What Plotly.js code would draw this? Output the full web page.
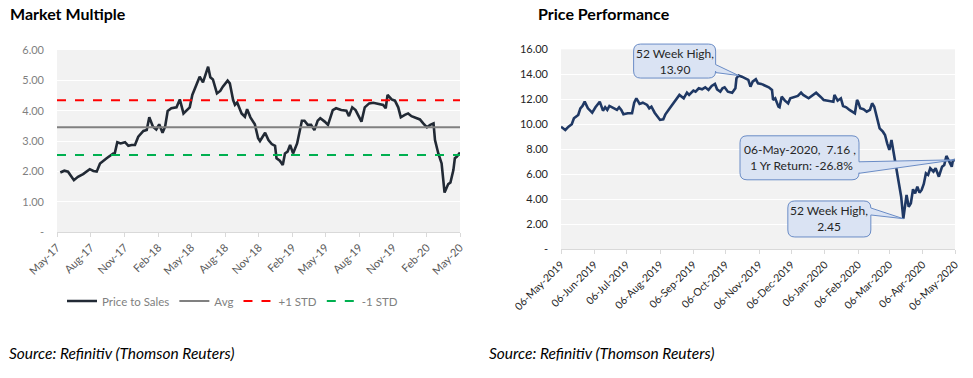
<!DOCTYPE html>
<html>
<head>
<meta charset="utf-8">
<script src="https://cdn.plot.ly/plotly-3.0.1.min.js"></script>
<style>
html,body{margin:0;padding:0;background:#fff;}
#chart{width:973px;height:378px;}
</style>
</head>
<body>
<div id="chart"></div>
<script>
// ---- Market Multiple (Price to Sales) ----
const psDates = ["2017-05-10","2017-05-21","2017-05-31","2017-06-16","2017-06-27","2017-07-11","2017-07-29","2017-08-08","2017-08-17","2017-08-26",
"2017-09-13","2017-10-01","2017-10-05","2017-10-12","2017-10-21","2017-11-02","2017-11-11","2017-11-20","2017-11-29","2017-12-08",
"2017-12-22","2017-12-31","2018-01-07","2018-01-17","2018-01-26","2018-02-03","2018-02-12","2018-02-19","2018-02-26","2018-03-08",
"2018-03-22","2018-03-31","2018-04-10","2018-04-18","2018-04-27","2018-05-04","2018-05-15","2018-05-24","2018-06-02","2018-06-16",
"2018-06-22","2018-06-29","2018-07-10","2018-07-19","2018-07-26","2018-08-08","2018-08-14","2018-08-23","2018-08-28","2018-09-03",
"2018-09-15","2018-09-24","2018-09-30","2018-10-09","2018-10-21","2018-10-30","2018-11-04","2018-11-18","2018-11-27","2018-12-06",
"2018-12-15","2018-12-19","2018-12-28","2019-01-05","2019-01-11","2019-01-18","2019-01-25","2019-02-02","2019-02-13","2019-02-22",
"2019-02-26","2019-03-05","2019-03-14","2019-03-23","2019-04-01","2019-04-10","2019-04-17","2019-04-29","2019-05-08","2019-05-21",
"2019-05-30","2019-06-13","2019-06-27","2019-07-04","2019-07-13","2019-07-22","2019-08-07","2019-08-16","2019-08-28","2019-09-08",
"2019-09-22","2019-10-05","2019-10-12","2019-10-17","2019-10-28","2019-11-06","2019-11-15","2019-11-22","2019-12-03","2019-12-12",
"2019-12-21","2019-12-30","2020-01-13","2020-01-22","2020-02-01","2020-02-10","2020-02-19","2020-02-23","2020-03-03","2020-03-12",
"2020-03-20","2020-03-30","2020-04-05","2020-04-13","2020-04-17","2020-04-22","2020-04-26","2020-05-01"];
const psValues = [1.96,2.02,1.99,1.71,1.82,1.91,2.07,2.01,1.99,2.26,
2.43,2.59,2.59,2.96,2.92,2.96,2.84,2.87,2.87,3.14,
3.33,3.36,3.78,3.47,3.38,3.55,3.27,3.47,3.99,4.08,
4.11,4.37,3.91,4.02,4.11,4.52,4.87,5.12,4.93,5.45,
5.10,5.03,4.57,4.65,4.79,4.99,4.90,4.35,4.19,4.27,
3.91,3.80,4.05,3.78,3.55,3.09,3.00,3.27,3.03,2.90,
2.84,2.43,2.35,2.21,2.59,2.65,2.87,2.59,2.92,3.53,
3.67,3.67,3.53,3.53,3.36,3.67,3.75,3.64,3.53,4.02,
4.08,4.02,4.00,3.82,4.11,4.02,3.64,4.11,4.24,4.26,
4.22,4.19,4.08,4.52,4.37,4.33,4.11,3.78,3.86,3.91,
3.82,3.78,3.71,3.58,3.45,3.53,3.58,3.03,2.59,2.26,
1.30,1.58,1.63,2.04,2.43,2.48,2.54,2.62];
const psAvg = 3.45;
const psPlusStd = 4.34;
const psMinusStd = 2.54;
const psRange = ["2017-05-01","2020-05-01"];
const psTickDates = ["2017-05-01","2017-08-01","2017-11-01","2018-02-01","2018-05-01","2018-08-01","2018-11-01","2019-02-01","2019-05-01","2019-08-01","2019-11-01","2020-02-01","2020-05-01"];
const psYTicks = [0,1,2,3,4,5,6];
const psYLabels = ["-","1.00","2.00","3.00","4.00","5.00","6.00"];
const psNames = ["Price to Sales","Avg","+1 STD","-1 STD"];

// ---- Price Performance ----
const pxDates = ["2019-05-06","2019-05-10","2019-05-13","2019-05-16","2019-05-18","2019-05-21","2019-05-22","2019-05-24","2019-05-26","2019-05-28",
"2019-05-31","2019-06-04","2019-06-07","2019-06-11","2019-06-14","2019-06-16","2019-06-18","2019-06-20","2019-06-24","2019-06-27",
"2019-06-29","2019-07-01","2019-07-03","2019-07-07","2019-07-11","2019-07-13","2019-07-15","2019-07-18","2019-07-21","2019-07-25",
"2019-07-27","2019-07-29","2019-08-01","2019-08-06","2019-08-09","2019-08-11","2019-08-15","2019-08-20","2019-08-24","2019-08-28",
"2019-08-31","2019-09-02","2019-09-06","2019-09-08","2019-09-11","2019-09-14","2019-09-17","2019-09-20","2019-09-23","2019-09-26",
"2019-09-28","2019-10-01","2019-10-03","2019-10-05","2019-10-08","2019-10-12","2019-10-15","2019-10-16","2019-10-18","2019-10-21",
"2019-10-24","2019-10-27","2019-10-29","2019-10-31","2019-11-03","2019-11-05","2019-11-08","2019-11-12","2019-11-15","2019-11-18",
"2019-11-19","2019-11-21","2019-11-24","2019-11-25","2019-11-27","2019-11-30","2019-12-03","2019-12-05","2019-12-09","2019-12-12",
"2019-12-15","2019-12-17","2019-12-22","2019-12-25","2019-12-29","2020-01-02","2020-01-05","2020-01-09","2020-01-14","2020-01-15",
"2020-01-18","2020-01-21","2020-01-23","2020-01-26","2020-01-29","2020-02-03","2020-02-05","2020-02-06","2020-02-08","2020-02-11",
"2020-02-14","2020-02-17","2020-02-19","2020-02-21","2020-02-23","2020-02-26","2020-02-29","2020-03-02","2020-03-04","2020-03-06",
"2020-03-08","2020-03-10","2020-03-13","2020-03-15","2020-03-17","2020-03-19","2020-03-21","2020-03-22","2020-03-24","2020-03-26",
"2020-03-28","2020-03-30","2020-04-01","2020-04-03","2020-04-05","2020-04-07","2020-04-09","2020-04-11","2020-04-13","2020-04-16",
"2020-04-18","2020-04-21","2020-04-24","2020-04-26","2020-04-28","2020-05-01","2020-05-03","2020-05-04","2020-05-06"];
const pxValues = [9.81,9.55,9.81,10.00,10.48,10.67,10.75,11.28,11.47,11.81,
11.28,10.93,11.36,11.81,11.09,11.36,11.15,11.47,11.28,11.15,
11.36,11.15,10.80,10.88,10.88,11.73,12.08,11.63,11.73,11.55,
11.28,11.41,10.93,10.35,10.40,10.80,11.28,11.89,12.35,12.08,
12.53,12.35,12.69,12.61,12.88,12.80,12.96,12.75,13.07,13.23,
12.80,12.61,12.88,12.96,12.61,12.53,12.88,13.68,13.90,13.81,
13.68,13.55,13.01,13.41,13.60,13.28,13.23,13.07,12.96,12.75,
11.95,12.08,11.41,11.36,12.21,11.89,11.68,12.08,12.21,12.27,
12.53,12.35,12.08,12.27,12.53,12.21,11.95,11.89,11.81,12.35,
11.89,12.08,11.47,11.36,11.15,10.88,11.95,11.81,11.28,11.20,
11.01,11.15,11.68,11.41,10.75,9.68,9.41,9.15,8.48,7.95,
8.75,7.81,6.35,5.28,4.21,2.45,3.68,4.35,3.41,3.68,
4.80,4.48,5.01,4.53,4.75,5.23,6.08,5.95,6.48,6.21,
6.48,5.81,6.61,6.75,7.47,6.88,6.61,7.09,7.16];
const pxRange = ["2019-05-06","2020-05-06"];
const pxYRange = [0, 16];
const pxTickDates = ["2019-05-06","2019-06-06","2019-07-06","2019-08-06","2019-09-06","2019-10-06","2019-11-06","2019-12-06","2020-01-06","2020-02-06","2020-03-06","2020-04-06","2020-05-06"];
const pxYTicks = [0,2,4,6,8,10,12,14,16];
const pxYLabels = ["-","2.00","4.00","6.00","8.00","10.00","12.00","14.00","16.00"];
const highDate = "2019-10-18", highVal = 13.90;
const lowDate = "2020-03-19", lowVal = 2.45;
const lastDate = "2020-05-06", lastVal = 7.16, yrReturn = "-26.8%";

const FONT = "Lato, 'Open Sans', sans-serif";
const W = 973, H = 378;
const px = v => v / W, py = v => 1 - v / H;

const traces = [
  {x: psDates, y: psValues, xaxis:'x', yaxis:'y', type:'scatter', mode:'lines', name: psNames[0],
   line:{color:'#222a35', width:2.6}},
  {x: psRange, y: [psAvg, psAvg], xaxis:'x', yaxis:'y', type:'scatter', mode:'lines', name: psNames[1],
   line:{color:'#808080', width:2}},
  {x: psRange, y: [psPlusStd, psPlusStd], xaxis:'x', yaxis:'y', type:'scatter', mode:'lines', name: psNames[2],
   line:{color:'#ff0000', width:2, dash:'dash'}},
  {x: psRange, y: [psMinusStd, psMinusStd], xaxis:'x', yaxis:'y', type:'scatter', mode:'lines', name: psNames[3],
   line:{color:'#00b050', width:2, dash:'dash'}},
  {x: pxDates, y: pxValues, xaxis:'x2', yaxis:'y2', type:'scatter', mode:'lines', showlegend:false,
   line:{color:'#1f3864', width:2.6}}
];

// rounded callout box with a wedge pointing at its anchor (pixel offsets, y up)
function calloutPath(L, R, T, B, w1, w2) {
  const r = 7;
  return `M${L+r},${T} L${R-r},${T} Q${R},${T} ${R},${T-r} L${R},${w1} L0,0 L${R},${w2} ` +
         `L${R},${B+r} Q${R},${B} ${R-r},${B} L${L+r},${B} Q${L},${B} ${L},${B+r} ` +
         `L${L},${T-r} Q${L},${T} ${L+r},${T} Z`;
}
// anchored on the x2 axis and on the y2 axis domain (so the box is not clipped by the plot area)
function calloutShape(xa, ya, geom) {
  const frac = (ya - pxYRange[0]) / (pxYRange[1] - pxYRange[0]);
  return {type:'path', xref:'x2', yref:'y2 domain', xsizemode:'pixel', ysizemode:'pixel', xanchor:xa, yanchor:frac,
    path: calloutPath.apply(null, geom), fillcolor:'#dae3f3', line:{color:'#6a8cc6', width:1}, layer:'above'};
}
function calloutText(xa, ya, dx, dy, text) {
  return {xref:'x2', yref:'y2', x:xa, y:ya, xshift:dx, yshift:dy, showarrow:false, text:text,
    align:'center', font:{family:FONT, size:12, color:'#262626'}};
}

const layout = {
  width: W, height: H,
  margin:{l:0, r:0, t:0, b:0},
  paper_bgcolor:'#ffffff', plot_bgcolor:'#f2f2f2',
  font:{family:FONT, size:11, color:'#595959'},
  showlegend:true,
  legend:{orientation:'h', x:px(62), y:py(301), xanchor:'left', yanchor:'middle',
    font:{family:FONT, size:11.5, color:'#7f7f7f'}, bgcolor:'rgba(0,0,0,0)', itemwidth:30, tracegroupgap:0},
  xaxis:{domain:[px(57), px(460)], anchor:'y', type:'date', range: psRange, tickvals: psTickDates,
    tickformat:'%b-%y', tickangle:-45, showgrid:false, zeroline:false, showline:true, linecolor:'#d9d9d9',
    ticks:'outside', ticklen:4, tickcolor:'#d9d9d9', tickfont:{size:11, color:'#595959'}},
  yaxis:{domain:[py(232), py(50)], anchor:'x', range:[0,6], tickvals: psYTicks, ticktext: psYLabels,
    showgrid:true, gridcolor:'#ffffff', gridwidth:1, zeroline:false, showline:false, ticklabelstandoff:12,
    tickfont:{size:11, color:'#7f7f7f'}},
  xaxis2:{domain:[px(561), px(955)], anchor:'y2', type:'date', range: pxRange, tickvals: pxTickDates,
    tickformat:'%d-%b-%Y', tickangle:-45, showgrid:false, zeroline:false, showline:true, linecolor:'#d9d9d9',
    ticks:'outside', ticklen:4, tickcolor:'#d9d9d9', tickfont:{size:10.5, color:'#262626'}},
  yaxis2:{domain:[py(249.3), py(49.3)], anchor:'x2', range: pxYRange, tickvals: pxYTicks, ticktext: pxYLabels,
    showgrid:true, gridcolor:'#ffffff', gridwidth:1, zeroline:false, showline:false, ticklabelstandoff:12,
    tickfont:{size:11, color:'#262626'}},
  shapes:[
    calloutShape(highDate, highVal, [-105, -23, 31.5, -2.5, 11, 3]),
    calloutShape(lastDate, lastVal, [-215, -96, 24, -20, -2, -13.5]),
    calloutShape(lowDate, lowVal, [-115.5, -32.5, 17.7, -18.3, 10.7, 3.7])
  ],
  annotations:[
    {xref:'paper', yref:'paper', x:px(8), y:py(14), xanchor:'left', yanchor:'middle', showarrow:false,
     text:'<b>Market Multiple</b>', font:{family:FONT, size:16, color:'#000000'}},
    {xref:'paper', yref:'paper', x:px(536), y:py(14), xanchor:'left', yanchor:'middle', showarrow:false,
     text:'<b>Price Performance</b>', font:{family:FONT, size:16, color:'#000000'}},
    {xref:'paper', yref:'paper', x:px(7), y:py(353), xanchor:'left', yanchor:'middle', showarrow:false,
     text:'<i>Source: Refinitiv (Thomson Reuters)</i>', font:{family:FONT, size:15.5, color:'#000000'}},
    {xref:'paper', yref:'paper', x:px(487), y:py(353), xanchor:'left', yanchor:'middle', showarrow:false,
     text:'<i>Source: Refinitiv (Thomson Reuters)</i>', font:{family:FONT, size:15.5, color:'#000000'}},
    calloutText(highDate, highVal, -64, 14.5, '52 Week High,<br>' + highVal.toFixed(2)),
    calloutText(lastDate, lastVal, -155.5, 2, '06-May-2020,  ' + lastVal.toFixed(2) + ' ,<br> 1 Yr Return: ' + yrReturn),
    calloutText(lowDate, lowVal, -74, -0.3, '52 Week High,<br>' + lowVal.toFixed(2))
  ]
};

Plotly.newPlot('chart', traces, layout, {displayModeBar:false, staticPlot:true});
</script>
</body>
</html>
